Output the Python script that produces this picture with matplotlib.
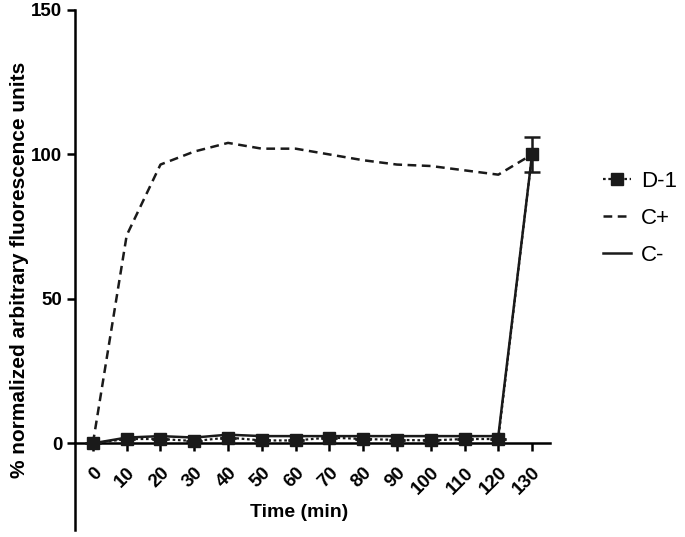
import matplotlib
matplotlib.use("Agg")
import matplotlib.pyplot as plt
from matplotlib.lines import Line2D

plt.rcParams['font.family'] = ['Liberation Sans', 'DejaVu Sans']

time = [0, 10, 20, 30, 40, 50, 60, 70, 80, 90, 100, 110, 120, 130]
d1 = [0, 1.5, 1.5, 0.8, 2.0, 1.0, 1.0, 2.0, 1.5, 1.2, 1.0, 1.5, 1.5, 100]
d1_err = [0, 0, 0, 0, 0, 0, 0, 0, 0, 0, 0, 0, 0, 6]
cpos = [0, 72, 96.5, 101, 104, 102, 102, 100, 98, 96.5, 96, 94.5, 93, 100]
cneg = [0, 2.0, 2.5, 2.0, 3.0, 2.5, 2.5, 2.5, 2.5, 2.5, 2.5, 2.5, 2.5, 100]
xticks = [0, 10, 20, 30, 40, 50, 60, 70, 80, 90, 100, 110, 120, 130]
yticks = [0, 50, 100, 150]

fig = plt.figure(figsize=(6.85, 5.37), dpi=100)
ax = fig.add_axes([75/685, 7/537, 475/685, 520/537])

lw = 1.8
ms = 8.5
ax.plot(time, cpos, color='#1a1a1a', lw=lw, ls=(0, (3.5, 2.2)), zorder=3)
ax.plot(time, cneg, color='#1a1a1a', lw=lw, ls='-', zorder=3)
ax.plot(time, d1, color='#1a1a1a', lw=1.6, ls=(0, (1.2, 1.2)), zorder=4)
ax.errorbar(time, d1, yerr=d1_err, fmt='s', color='#1a1a1a', ms=ms,
            elinewidth=lw, capsize=6, capthick=lw, zorder=5)

ax.set_xlim(-5.3, 135.3)
ax.set_ylim(-30, 150)
ax.spines['top'].set_visible(False)
ax.spines['right'].set_visible(False)
ax.spines['bottom'].set_position(('data', 0))
for s in ('left', 'bottom'):
    ax.spines[s].set_linewidth(1.8)
ax.set_xticks(xticks)
ax.set_xticklabels([str(t) for t in xticks], rotation=45, ha='right',
                   rotation_mode='anchor', fontweight='bold', fontsize=13.5)
ax.set_yticks(yticks)
ax.set_yticklabels([str(t) for t in yticks], fontweight='bold', fontsize=13.5)
ax.tick_params(axis='both', direction='out', length=6, width=1.8, pad=3)
ax.tick_params(axis='x', pad=9)

ax.set_ylabel('% normalized arbitrary fluorescence units', fontweight='bold',
              fontsize=15)
ax.yaxis.set_label_coords(-0.097, 0.5)
ax.text(61, -24, 'Time (min)', ha='center', va='center', fontweight='bold',
        fontsize=14)

handles = [
    Line2D([], [], color='#1a1a1a', lw=1.6, ls=(0, (1.2, 1.2)), marker='s', ms=ms),
    Line2D([], [], color='#1a1a1a', lw=lw, ls=(0, (3.5, 2.2))),
    Line2D([], [], color='#1a1a1a', lw=lw, ls='-'),
]
fig.legend(handles, ['D-1', 'C+', 'C-'], loc='upper left',
           bbox_to_anchor=(594/685, 1 - 162/537), frameon=False, fontsize=16,
           handlelength=1.25, handletextpad=0.45, labelspacing=0.72,
           borderaxespad=0)

fig.savefig('out.png', dpi=100)
